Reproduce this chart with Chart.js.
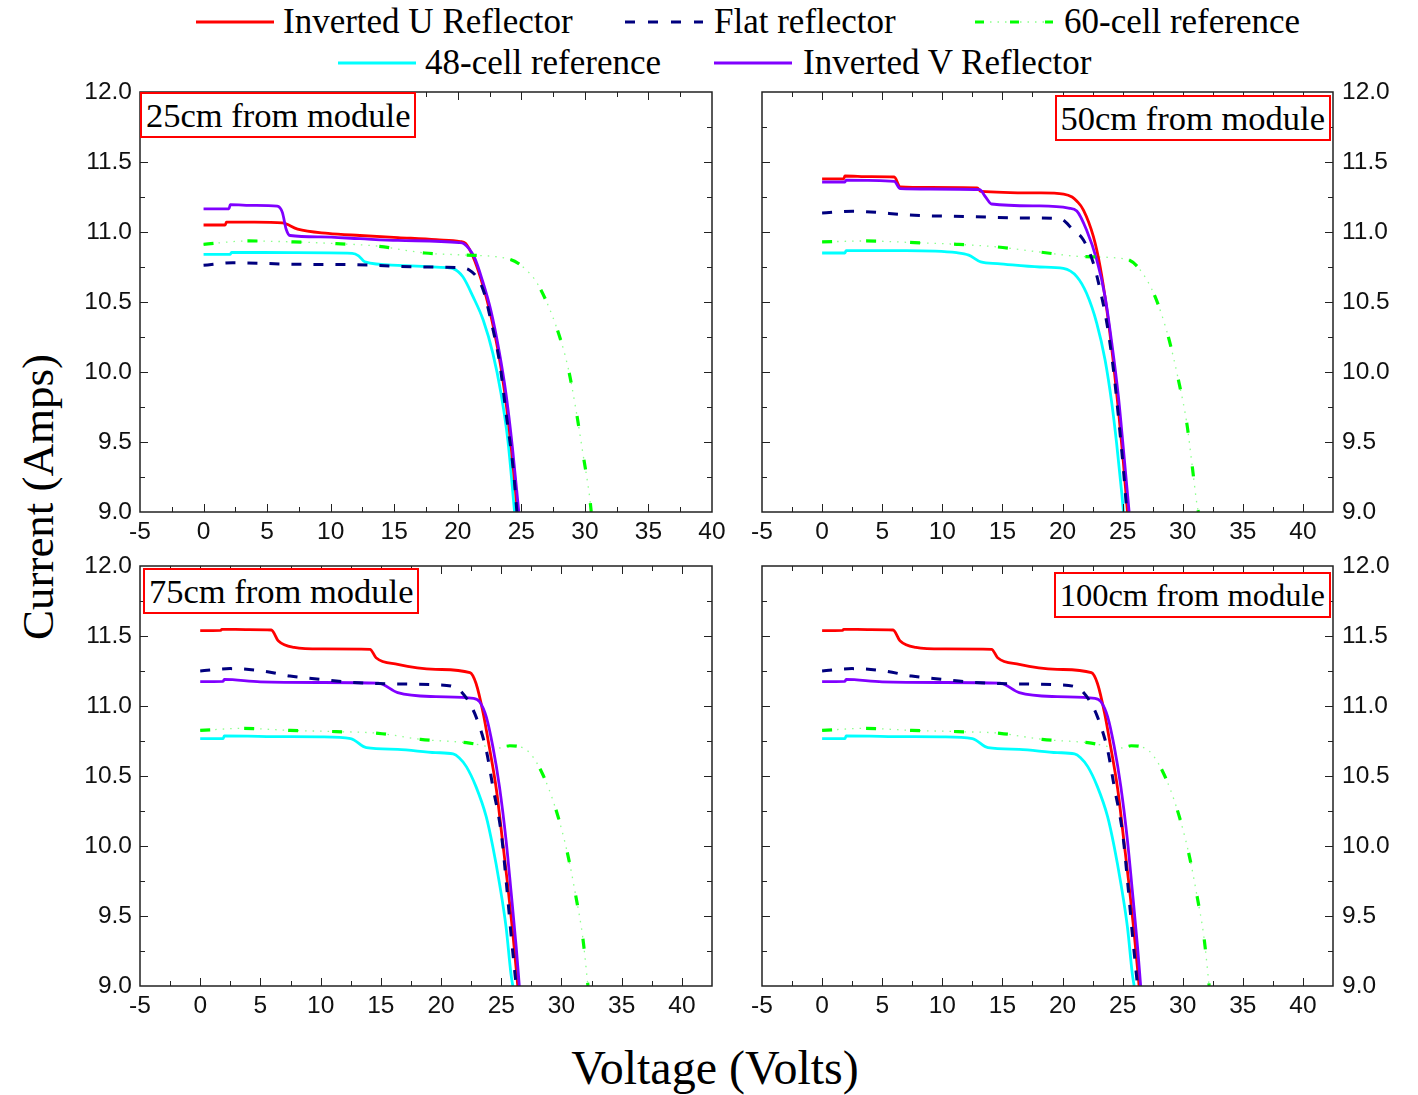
<!DOCTYPE html>
<html>
<head>
<meta charset="utf-8">
<script src="https://cdn.jsdelivr.net/npm/chart.js@4.4.1/dist/chart.umd.min.js"></script>
<style>
    body {
        margin: 0;
        width: 1418px;
        height: 1095px;
        position: relative;
        overflow: hidden;
        background: #fff;
        font-family: "Liberation Serif", "Times New Roman", serif;
        color: #000;
    }
    .abs { position: absolute; }
    .panel-label {
        position: absolute;
        border: 2px solid #ff0000;
        padding: 0 4px;
        font-size: 34.5px;
        line-height: 42px;
        white-space: nowrap;
        background: #fff;
    }
    .legend-text {
        position: absolute;
        font-size: 35px;
        line-height: 38px;
        white-space: nowrap;
    }
    .axis-title {
        position: absolute;
        line-height: 52px;
        white-space: nowrap;
    }
</style>
</head>
<body>
<div id="legend"></div>
<div class="axis-title" id="yTitle" style="left:38px; top:497px; font-size:45px; transform: translate(-50%, -50%) rotate(-90deg);">Current (Amps)</div>
<div class="axis-title" id="xTitle" style="left:715px; top:1068px; font-size:48px; transform: translate(-50%, -50%);">Voltage (Volts)</div>

<script>
// Series names (legend order)
const seriesNames = ['Inverted U Reflector', 'Flat reflector', '60-cell reference', '48-cell reference', 'Inverted V Reflector'];

// 25cm from module  -- [voltage, current]
const u25 = [[0, 11.05], [1.7, 11.05], [1.8, 11.07], [4, 11.07], [6.2, 11.065], [7.4, 11.02], [9.8, 10.99], [12.3, 10.975], [15.3, 10.96], [18.3, 10.945], [20.2, 10.932], [20.6, 10.92], [21.2, 10.824], [21.85, 10.657], [22.5, 10.443], [23.16, 10.157], [23.7, 9.848], [24.2, 9.467], [24.7, 9.0]];
const f25 = [[0, 10.762], [2.3, 10.78], [7, 10.77], [12, 10.766], [15.3, 10.755], [18.9, 10.748], [20.0, 10.745], [20.9, 10.729], [22.0, 10.586], [22.6, 10.37], [23.3, 10.062], [23.8, 9.705], [24.4, 9.276], [24.65, 9.0]];
const g25 = [[0, 10.912], [3.5, 10.936], [7.1, 10.929], [10.45, 10.917], [13.8, 10.898], [17.4, 10.85], [20.4, 10.836], [24.1, 10.805], [25.65, 10.705], [26.4, 10.61], [27.75, 10.324], [28.66, 10.038], [29.3, 9.73], [29.84, 9.42], [30.37, 9.11], [30.5, 9.0]];
const c25 = [[0, 10.84], [2.1, 10.84], [2.2, 10.855], [7, 10.852], [11.7, 10.848], [12.2, 10.83], [12.7, 10.786], [15.3, 10.762], [19.2, 10.745], [19.6, 10.74], [20.4, 10.68], [21.2, 10.538], [22.0, 10.371], [22.76, 10.133], [23.4, 9.848], [23.94, 9.514], [24.47, 9.0]];
const v25 = [[0, 11.165], [2.0, 11.165], [2.1, 11.195], [4, 11.19], [5.8, 11.185], [6.2, 11.14], [6.5, 11.02], [6.8, 10.975], [9.2, 10.965], [12.3, 10.952], [15.3, 10.94], [20.1, 10.924], [20.5, 10.915], [21.3, 10.82], [21.95, 10.65], [22.6, 10.44], [23.25, 10.15], [23.8, 9.84], [24.3, 9.46], [24.8, 9.0]];

// 50cm from module
const u50 = [[0, 11.38], [1.8, 11.38], [1.9, 11.4], [4, 11.395], [6.0, 11.393], [6.5, 11.322], [9, 11.318], [12.9, 11.315], [13.2, 11.29], [18.1, 11.279], [20.1, 11.271], [20.8, 11.25], [21.2, 11.22], [21.74, 11.157], [22.57, 10.967], [23.13, 10.752], [23.69, 10.443], [24.24, 10.062], [24.65, 9.73], [25.07, 9.348], [25.4, 9.0]];
const f50 = [[0, 11.136], [2.55, 11.148], [7.7, 11.119], [12.2, 11.11], [17.4, 11.1], [19.8, 11.094], [20.9, 11.014], [21.74, 10.943], [22.57, 10.776], [23.13, 10.586], [23.69, 10.348], [24.24, 10.014], [24.65, 9.681], [25.07, 9.3], [25.35, 9.0]];
const g50 = [[0, 10.929], [3.6, 10.936], [7.7, 10.924], [11.2, 10.912], [14.6, 10.893], [18.1, 10.857], [21.74, 10.824], [25.35, 10.805], [26.46, 10.729], [27.7, 10.538], [28.8, 10.252], [29.64, 9.943], [30.34, 9.633], [30.76, 9.348], [31.17, 9.062], [31.3, 9.0]];
const c50 = [[0, 10.85], [1.9, 10.85], [2.0, 10.867], [7.0, 10.867], [11.2, 10.852], [12.2, 10.835], [13.2, 10.786], [14.6, 10.774], [18.1, 10.75], [20.07, 10.74], [21.2, 10.68], [22.0, 10.562], [22.85, 10.348], [23.54, 10.086], [24.1, 9.776], [24.5, 9.49], [24.93, 9.133], [25.07, 9.0]];
const v50 = [[0, 11.357], [1.9, 11.357], [2.0, 11.371], [6.0, 11.362], [6.5, 11.31], [9, 11.307], [13.1, 11.303], [13.6, 11.25], [14.1, 11.2], [18.1, 11.186], [20.5, 11.171], [21.19, 11.15], [22.0, 11.014], [22.85, 10.8], [23.54, 10.538], [24.1, 10.205], [24.65, 9.824], [25.07, 9.443], [25.54, 9.0]];

// 75cm from module
const u75 = [[0, 11.538], [1.7, 11.54], [1.8, 11.548], [4, 11.546], [5.9, 11.543], [6.5, 11.464], [7.8, 11.419], [10, 11.408], [14.1, 11.405], [14.6, 11.345], [16.4, 11.298], [19.55, 11.262], [22.4, 11.238], [22.9, 11.162], [23.5, 10.948], [24.0, 10.71], [24.6, 10.4], [25.1, 10.04], [25.55, 9.71], [25.96, 9.376], [26.37, 9.0]];
const f75 = [[0, 11.25], [2.5, 11.267], [5.2, 11.25], [7.45, 11.214], [10.0, 11.19], [12.2, 11.171], [14.8, 11.16], [19.55, 11.152], [21.3, 11.13], [21.7, 11.1], [22.3, 11.03], [22.9, 10.924], [23.75, 10.686], [24.3, 10.424], [25.0, 10.09], [25.4, 9.757], [25.8, 9.38], [26.24, 9.0]];
const g75 = [[0, 10.826], [3.6, 10.84], [7.45, 10.826], [11.3, 10.817], [14.8, 10.805], [18.3, 10.762], [22.1, 10.738], [25.0, 10.7], [25.7, 10.716], [27.1, 10.686], [28.4, 10.52], [29.55, 10.257], [30.5, 9.948], [31.2, 9.638], [31.76, 9.352], [32.2, 9.0]];
const c75 = [[0, 10.767], [1.9, 10.767], [2.0, 10.786], [7, 10.781], [10, 10.779], [12.5, 10.767], [13.8, 10.702], [16.4, 10.69], [19.55, 10.667], [21.0, 10.658], [21.5, 10.63], [22.1, 10.567], [22.9, 10.424], [23.75, 10.21], [24.3, 9.995], [24.85, 9.733], [25.4, 9.42], [25.8, 9.09], [25.96, 9.0]];
const v75 = [[0, 11.174], [1.9, 11.176], [2.0, 11.19], [5, 11.172], [10, 11.168], [14.8, 11.163], [16.4, 11.095], [19.55, 11.067], [22.7, 11.055], [23.2, 11.03], [23.75, 10.924], [24.3, 10.71], [24.85, 10.424], [25.4, 10.04], [25.8, 9.686], [26.24, 9.28], [26.5, 9.0]];

// 100cm from module (same curves as 75cm in the figure)
const u100 = u75;
const f100 = f75;
const g100 = g75;
const c100 = c75;
const v100 = v75;

const xTickLabels = [-5, 0, 5, 10, 15, 20, 25, 30, 35, 40];
const yTickLabels = [9.0, 9.5, 10.0, 10.5, 11.0, 11.5, 12.0];

const panels = [
    { label: '25cm from module', series: { u: u25, f: f25, g: g25, c: c25, v: v25 }, xMax: 40,
      box: { left: 60, top: 80, width: 680, height: 480 }, pad: { top: 12, left: 0, right: 28 }, yPos: 'left', yW: 80, xH: 48,
      tag: 'left:140px; top:92px;' },
    { label: '50cm from module', series: { u: u50, f: f50, g: g50, c: c50, v: v50 }, xMax: 42.5,
      box: { left: 740, top: 80, width: 678, height: 480 }, pad: { top: 12, left: 22, right: 0 }, yPos: 'right', yW: 85, xH: 48,
      tag: 'right:87px; top:95px;' },
    { label: '75cm from module', series: { u: u75, f: f75, g: g75, c: c75, v: v75 }, xMax: 42.5,
      box: { left: 60, top: 555, width: 680, height: 480 }, pad: { top: 11, left: 0, right: 28 }, yPos: 'left', yW: 80, xH: 49,
      tag: 'left:143px; top:568px;' },
    { label: '100cm from module', series: { u: u100, f: f100, g: g100, c: c100, v: v100 }, xMax: 42.5,
      box: { left: 740, top: 555, width: 678, height: 480 }, pad: { top: 11, left: 22, right: 0 }, yPos: 'right', yW: 85, xH: 49,
      tag: 'right:87px; top:572px; font-size:32.5px;' }
];

const styles = {
    u: { name: seriesNames[0], color: '#ff0000', width: 2.8, dash: [] },
    f: { name: seriesNames[1], color: '#00007f', width: 3, dash: [10, 12] },
    g: { name: seriesNames[2], color: '#00ff00', width: 3.2, dash: [10, 34] },
    c: { name: seriesNames[3], color: '#00ffff', width: 2.8, dash: [] },
    v: { name: seriesNames[4], color: '#8000ff', width: 2.8, dash: [] }
};

// marco con marcas hacia dentro en los cuatro lados
const frameTicks = {
    id: 'frameTicks',
    afterDatasetsDraw(chart) {
        const { ctx, chartArea: a, scales: { x, y } } = chart;
        ctx.save();
        ctx.strokeStyle = '#222';
        ctx.lineWidth = 1;
        ctx.beginPath();
        for (let v = x.min + 2.5; v < x.max - 0.01; v += 2.5) {
            const px = Math.round(x.getPixelForValue(v)) + 0.5;
            const len = Math.abs(v % 5) < 1e-6 ? 8 : 5;
            ctx.moveTo(px, a.bottom); ctx.lineTo(px, a.bottom - len);
            ctx.moveTo(px, a.top); ctx.lineTo(px, a.top + len);
        }
        for (let v = y.min + 0.25; v < y.max - 0.01; v += 0.25) {
            const py = Math.round(y.getPixelForValue(v)) + 0.5;
            const len = Math.abs(v % 0.5) < 1e-6 ? 8 : 5;
            ctx.moveTo(a.left, py); ctx.lineTo(a.left + len, py);
            ctx.moveTo(a.right, py); ctx.lineTo(a.right - len, py);
        }
        ctx.stroke();
        ctx.lineWidth = 1.5;
        ctx.strokeRect(a.left, a.top, a.right - a.left, a.bottom - a.top);
        ctx.restore();
    }
};

function makeDataset(key, pts, extra) {
    const st = styles[key];
    return Object.assign({
        label: st.name,
        data: pts.map(p => ({ x: p[0], y: p[1] })),
        showLine: true,
        pointRadius: 0,
        borderColor: st.color,
        borderWidth: st.width,
        borderDash: st.dash,
        cubicInterpolationMode: 'monotone',
        fill: false
    }, extra || {});
}

function buildPanel(p) {
    const wrap = document.createElement('div');
    wrap.className = 'abs';
    wrap.style.left = p.box.left + 'px';
    wrap.style.top = p.box.top + 'px';
    const canvas = document.createElement('canvas');
    canvas.width = p.box.width;
    canvas.height = p.box.height;
    wrap.appendChild(canvas);
    document.body.appendChild(wrap);

    const s = p.series;
    const datasets = [
        makeDataset('f', s.f),
        makeDataset('g', s.g),
        makeDataset('v', s.v),
        makeDataset('u', s.u),
        makeDataset('c', s.c),
        // tramo punteado tenue de la curva 60-cell
        makeDataset('g', s.g, { label: '', borderColor: '#8cff8c', borderWidth: 1.3, borderDash: [1.5, 6] })
    ];

    const tickFont = { family: '"Liberation Sans", Arial, sans-serif', size: 24.5 };

    new Chart(canvas, {
        type: 'scatter',
        data: { datasets },
        options: {
            responsive: false,
            animation: false,
            layout: { padding: { top: p.pad.top, left: p.pad.left, right: p.pad.right, bottom: 0 } },
            plugins: { legend: { display: false }, tooltip: { enabled: false } },
            scales: {
                x: {
                    type: 'linear',
                    min: -5,
                    max: p.xMax,
                    grid: { display: false, drawTicks: false },
                    border: { display: false },
                    ticks: {
                        stepSize: 5, padding: 6, color: '#111', font: tickFont,
                        maxRotation: 0, autoSkip: false,
                        callback: v => String(v)
                    },
                    afterBuildTicks: sc => {
                        sc.ticks = xTickLabels.map(v => ({ value: v }));
                    },
                    afterFit: sc => { sc.height = p.xH; sc.paddingLeft = 0; sc.paddingRight = 0; }
                },
                y: {
                    type: 'linear',
                    position: p.yPos,
                    min: 9,
                    max: 12,
                    grid: { display: false, drawTicks: false },
                    border: { display: false },
                    ticks: {
                        stepSize: 0.5, padding: p.yPos === 'left' ? 8 : 9, color: '#111', font: tickFont,
                        callback: v => Number(v).toFixed(1)
                    },
                    afterBuildTicks: sc => {
                        sc.ticks = yTickLabels.map(v => ({ value: v }));
                    },
                    afterFit: sc => { sc.width = p.yW; sc.paddingTop = 0; sc.paddingBottom = 0; }
                }
            }
        },
        plugins: [frameTicks]
    });

    const tag = document.createElement('div');
    tag.className = 'panel-label';
    tag.style.cssText = tag.style.cssText + p.tag;
    tag.textContent = p.label;
    document.body.appendChild(tag);
}

panels.forEach(buildPanel);

// Leyenda superior
const legendItems = [
    { key: 'u', x: 196, y: 22, text: 283 },
    { key: 'f', x: 625, y: 22, text: 714 },
    { key: 'g', x: 975, y: 22, text: 1064 },
    { key: 'c', x: 338, y: 63, text: 425 },
    { key: 'v', x: 714, y: 63, text: 803 }
];

const legend = document.getElementById('legend');
legendItems.forEach(item => {
    const st = styles[item.key];
    const ns = 'http://www.w3.org/2000/svg';
    const svg = document.createElementNS(ns, 'svg');
    svg.setAttribute('width', 78);
    svg.setAttribute('height', 8);
    svg.style.position = 'absolute';
    svg.style.left = item.x + 'px';
    svg.style.top = (item.y - 4) + 'px';
    if (item.key === 'g') {
        const dots = document.createElementNS(ns, 'line');
        dots.setAttribute('x1', 0); dots.setAttribute('y1', 4);
        dots.setAttribute('x2', 78); dots.setAttribute('y2', 4);
        dots.setAttribute('stroke', '#8cff8c');
        dots.setAttribute('stroke-width', 1.3);
        dots.setAttribute('stroke-dasharray', '1.5 6');
        svg.appendChild(dots);
    }
    const line = document.createElementNS(ns, 'line');
    line.setAttribute('x1', 0); line.setAttribute('y1', 4);
    line.setAttribute('x2', 78); line.setAttribute('y2', 4);
    line.setAttribute('stroke', st.color);
    line.setAttribute('stroke-width', 3);
    if (item.key === 'f') line.setAttribute('stroke-dasharray', '10 13');
    if (item.key === 'g') line.setAttribute('stroke-dasharray', '9 26');
    svg.appendChild(line);
    legend.appendChild(svg);

    const txt = document.createElement('div');
    txt.className = 'legend-text';
    txt.style.left = item.text + 'px';
    txt.style.top = (item.y - 19) + 'px';
    txt.textContent = st.name;
    legend.appendChild(txt);
});
</script>
</body>
</html>
